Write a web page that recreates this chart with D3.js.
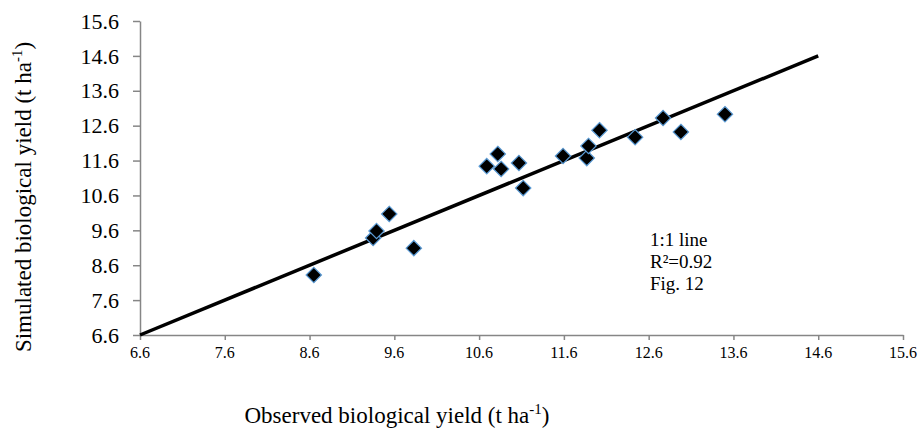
<!DOCTYPE html>
<html>
<head>
<meta charset="utf-8">
<script src="https://cdn.jsdelivr.net/npm/d3@7"></script>
<style>
body { margin: 0; background: #fff; }
svg text { font-family: "Liberation Serif", "Times New Roman", serif; }
</style>
</head>
<body>
<div id="chart"></div>
<script>
var width = 920;
var height = 430;
var margin = {top: 21, right: 17, bottom: 95, left: 140};

// observed (x) and simulated (y) biological yield, t/ha
var observed  = [8.65, 9.35, 9.39, 9.54, 9.83, 10.69, 10.82, 10.86, 11.07, 11.12, 11.59, 11.87, 11.89, 12.02, 12.44, 12.77, 12.98, 13.50];
var simulated = [8.32, 9.38, 9.58, 10.07, 9.09, 11.44, 11.79, 11.36, 11.53, 10.81, 11.73, 11.67, 12.02, 12.47, 12.27, 12.82, 12.42, 12.93];
var tickValues = [6.6, 7.6, 8.6, 9.6, 10.6, 11.6, 12.6, 13.6, 14.6, 15.6];
var lineEnds = [6.6, 14.6];
var notes = ["1:1 line", "R²=0.92", "Fig. 12"];

var fmt = d3.format(".1f");

var svg = d3.select("#chart")
	.append("svg")
		.attr("width", width)
		.attr("height", height);

var x = d3.scaleLinear().domain([6.6, 15.6]).range([margin.left, width - margin.right]);
var y = d3.scaleLinear().domain([6.6, 15.6]).range([height - margin.bottom, margin.top]);

// axes (lines and ticks), labels drawn separately below
svg.append("g")
	.attr("transform", "translate(0," + y(6.6) + ")")
	.call(d3.axisBottom(x).tickValues(tickValues).tickFormat("").tickSizeInner(5).tickSizeOuter(0));

svg.append("g")
	.attr("transform", "translate(" + x(6.6) + ",0)")
	.call(d3.axisLeft(y).tickValues(tickValues).tickFormat("").tickSizeInner(7).tickSizeOuter(0));

svg.selectAll(".domain, .tick line").attr("stroke", "#868686").attr("stroke-width", 1.5);

svg.append("g").selectAll("text")
	.data(tickValues)
	.enter()
		.append("text")
			.attr("x", function (d) { return x(d); })
			.attr("y", y(6.6) + 23)
			.attr("text-anchor", "middle")
			.attr("font-family", "Liberation Serif")
			.attr("font-size", 16)
			.style("font-size", "16px")
			.text(function (d) { return fmt(d); });

svg.append("g").selectAll("text")
	.data(tickValues)
	.enter()
		.append("text")
			.attr("x", x(6.6) - 21)
			.attr("y", function (d) { return y(d); })
			.attr("dy", "0.35em")
			.attr("text-anchor", "end")
			.attr("font-family", "Liberation Serif")
			.attr("font-size", 22)
			.style("font-size", "22px")
			.text(function (d) { return fmt(d); });

// 1:1 line
svg.append("line")
	.attr("x1", x(lineEnds[0]))
	.attr("y1", y(lineEnds[0]))
	.attr("x2", x(lineEnds[1]))
	.attr("y2", y(lineEnds[1]))
	.attr("stroke", "#000")
	.attr("stroke-width", 3.5);

// points
var diamond = d3.symbol().type(d3.symbolDiamond2).size(150);
svg.selectAll("path.pt")
	.data(observed)
	.enter()
		.append("path")
			.attr("class", "pt")
			.attr("d", diamond)
			.attr("transform", function (d, i) { return "translate(" + x(d) + "," + y(simulated[i]) + ")"; })
			.attr("fill", "#000")
			.attr("stroke", "#5b9bd5")
			.attr("stroke-width", 1.2);

// notes
svg.selectAll("text.note")
	.data(notes)
	.enter()
		.append("text")
			.attr("class", "note")
			.attr("x", 650)
			.attr("y", function (d, i) { return 246 + i * 22; })
			.style("font-size", "19px")
			.text(function (d) { return d; });

// axis titles
var xt = svg.append("text")
	.attr("x", 397)
	.attr("y", 423)
	.attr("text-anchor", "middle")
	.style("font-size", "23px");
xt.append("tspan").text("Observed biological yield (t ha");
xt.append("tspan").style("font-size", "15px").attr("dy", -9).text("-1");
xt.append("tspan").attr("dy", 9).text(")");

var yt = svg.append("text")
	.attr("transform", "translate(31,197) rotate(-90)")
	.attr("text-anchor", "middle")
	.style("font-size", "23px");
yt.append("tspan").text("Simulated biological yield (t ha");
yt.append("tspan").style("font-size", "15px").attr("dy", -9).text("-1");
yt.append("tspan").attr("dy", 9).text(")");
</script>
</body>
</html>
